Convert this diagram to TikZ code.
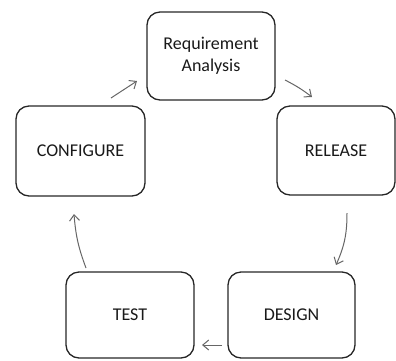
\documentclass[tikz,border=0pt]{standalone}
\usepackage{fontspec}
\setmainfont{Carlito}
\usetikzlibrary{arrows.meta}
\begin{document}
\begin{tikzpicture}[x=1pt,y=-1pt,
  box/.style={draw=black!85,line width=1.3pt,rounded corners=13pt,align=center,
    inner sep=0pt,font=\fontsize{18}{22}\selectfont,text=black!90},
  flow/.style={draw=black!60,line width=1pt,-{Straight Barb[length=6pt,width=10pt]}}]
\useasboundingbox (0,0) rectangle (396,360);
\node[box,minimum width=128pt,minimum height=88pt] (req) at (211,56) {Requirement\\Analysis};
\node[box,minimum width=118pt,minimum height=89pt] (rel) at (336,150.5) {RELEASE};
\node[box,minimum width=129pt,minimum height=90pt] (cfg) at (80.5,151) {CONFIGURE};
\node[box,minimum width=128pt,minimum height=86pt] (tst) at (130,315) {TEST};
\node[box,minimum width=127pt,minimum height=86pt] (des) at (291.5,315) {DESIGN};
\coordinate (a1) at (285,80); \coordinate (a2) at (312,97);
\coordinate (b1) at (347,213); \coordinate (b2) at (336,265);
\coordinate (c1) at (222,345); \coordinate (c2) at (202,345);
\coordinate (d1) at (86,268); \coordinate (d2) at (74,214);
\coordinate (e1) at (111,98); \coordinate (e2) at (137,81);
\draw[flow] (a1) to[bend left=5] (a2);
\draw[flow] (b1) to[bend left=12] (b2);
\draw[flow] (c1) -- (c2);
\draw[flow] (d1) to[bend left=8] (d2);
\draw[flow] (e1) -- (e2);
\end{tikzpicture}
\end{document}
